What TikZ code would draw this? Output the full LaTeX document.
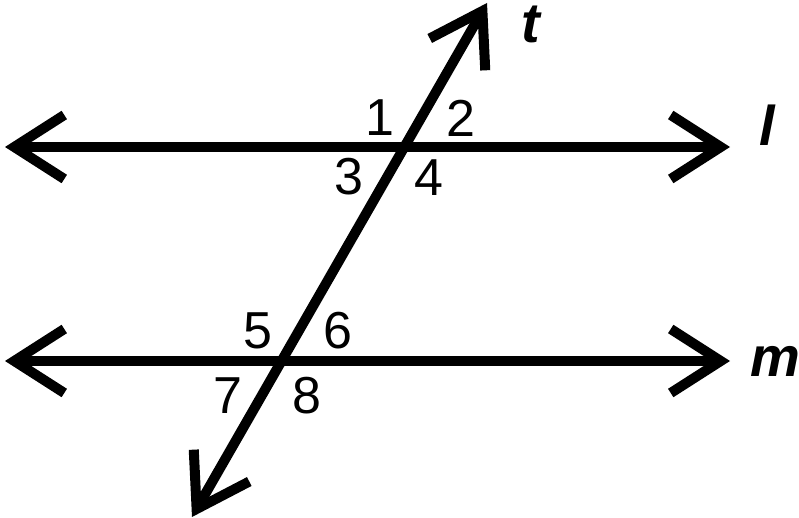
\documentclass[tikz,border=0pt]{standalone}
\usepackage{fontspec}
\setmainfont{Liberation Sans}
\usetikzlibrary{arrows.meta}
\begin{document}
\begin{tikzpicture}[x=1pt, y=1pt, >={Straight Barb[length=50pt,width=64pt]},
    line/.style={<->, line width=10pt, black},
    num/.style={inner sep=0pt, font=\fontsize{52}{54}\selectfont},
    linename/.style={inner sep=0pt, font=\fontsize{56}{58}\selectfont\bfseries\itshape}]

        \useasboundingbox (0,0) rectangle (799,518);

        % Ends of the lines
        \coordinate (lA) at (5,371);
        \coordinate (lB) at (730,371);
        \coordinate (mA) at (5,157);
        \coordinate (mB) at (730,157);
        \coordinate (tA) at (192,1);
        \coordinate (tB) at (487,515);

        % Lines
        \draw[line] (lA) -- (lB);
        \draw[line] (mA) -- (mB);
        \draw[line] (tA) -- (tB);

        % Names
        \node[linename] (t) at (531,494) {t};
        \node[linename] (l) at (767,393) {l};
        \node[linename] (m) at (775,157) {m};

        % Angles
        \node[num] (a1) at (380,400) {1};
        \node[num] (a2) at (461,400) {2};
        \node[num] (a3) at (349,341) {3};
        \node[num] (a4) at (429,340) {4};
        \node[num] (a5) at (258,187) {5};
        \node[num] (a6) at (338,187) {6};
        \node[num] (a7) at (228,122) {7};
        \node[num] (a8) at (307,122) {8};

    \end{tikzpicture}
\end{document}
